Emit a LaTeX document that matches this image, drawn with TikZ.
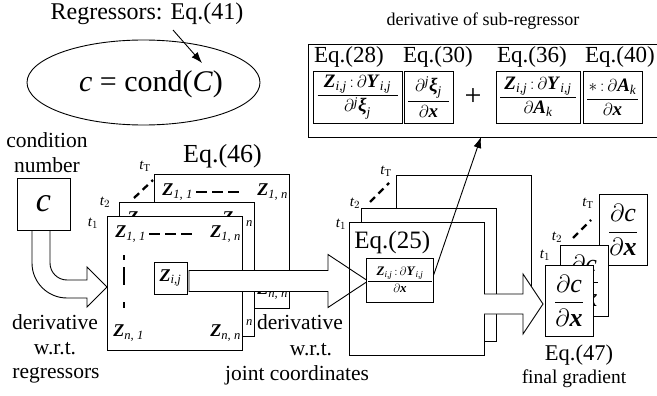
\documentclass[tikz,border=0pt]{standalone}
\usepackage{amsmath}
\usepackage{fontspec}
\setmainfont{Liberation Serif}
\usetikzlibrary{arrows.meta,shapes.geometric}
\newcommand{\bZ}{\textbf{\textit{Z}}}
\newcommand{\bY}{\textbf{\textit{Y}}}
\newcommand{\bA}{\textbf{\textit{A}}}
\newcommand{\bx}{\textbf{\textit{x}}}
\newcommand{\bxi}{\textbf{\textit{ξ}}}
\newcommand{\myfs}[1]{\fontsize{#1}{#1}\selectfont}
\newcommand{\zmatrix}[3]{%
\begin{scope}[shift={(#1,-#2)}]
\node[matbox] (#3) at (0,0) {};
\node[zent] (#3a) at (8,-18) {$\bZ_{\textit{1, 1}}$};
\node[zent] (#3b) at (103,-18) {$\bZ_{\textit{1, n}}$};
\node[zent] (#3c) at (6,-117) {$\bZ_{\textit{n, 1}}$};
\node[zent] (#3d) at (103,-117) {$\bZ_{\textit{n, n}}$};
\draw[dotline] (42,-18) -- (86,-18);
\draw[vdot] (17,-39) -- (17,-44) (17,-51) -- (17,-69) (17,-86) -- (17,-92);
\end{scope}}
\begin{document}
\begin{tikzpicture}[x=1pt,y=1pt,line width=0.9pt,
  lbl/.style={anchor=base,inner sep=0pt,font=\myfs{21.5}},
  matbox/.style={draw,fill=white,minimum width=135pt,minimum height=134pt,anchor=north west,inner sep=0pt},
  eqbox/.style={draw,fill=white,minimum width=135pt,minimum height=133pt,anchor=north west,inner sep=0pt},
  zent/.style={anchor=west,inner sep=0pt,font=\myfs{18}},
  dotline/.style={line width=2.5pt,dash pattern=on 10.5pt off 5.5pt},
  vdot/.style={line width=2.5pt},
  tdash/.style={line width=2.3pt,dash pattern=on 7pt off 5pt},
  tlab/.style={inner sep=0pt,font=\myfs{15}},
  fracbox/.style={draw,fill=white,inner xsep=0pt,inner ysep=0pt,minimum height=52pt,font=\myfs{19}},
  gbox/.style={draw,fill=white,minimum width=48pt,minimum height=71pt,inner sep=0pt,font=\myfs{26}},
  blockarrow/.style={draw,fill=white,line join=miter},
  thinarrow/.style={-{Latex[length=11pt,width=8pt]},line width=0.9pt}]
\useasboundingbox (0,0) rectangle (657,-396);
\clip (0,0) rectangle (657,-396);

% top-left
\node[lbl,font=\myfs{24}] (reg) at (147,-20) {Regressors: Eq.(41)};
\node[draw,ellipse,minimum width=233pt,minimum height=85pt,inner sep=0pt] (ell) at (143.5,-82.5) {};
\node[inner sep=0pt,font=\myfs{30}] (condtxt) at (151,-84) {\textit{c} = cond(\textit{C})};
\coordinate (a1s) at (173,-30);
\coordinate (a1e) at (202,-63);
\draw[thinarrow] (a1s) -- (a1e);

% top box
\node[draw,minimum width=354pt,minimum height=93pt,anchor=north west,inner sep=0pt] (topbox) at (308,-44) {};
\node[lbl,font=\myfs{18}] (hd) at (483,-26) {derivative of sub-regressor};
\node[lbl,font=\myfs{23}] (e28) at (349,-63) {Eq.(28)};
\node[lbl,font=\myfs{23}] (e30) at (438,-63) {Eq.(30)};
\node[lbl,font=\myfs{23}] (e36) at (532,-63) {Eq.(36)};
\node[lbl,font=\myfs{23}] (e40) at (620,-63) {Eq.(40)};
\node[fracbox,minimum width=89pt] (f28) at (357.5,-97) {$\dfrac{\makebox[80pt]{$\bZ_{\textit{i,j}}\,{:}\,\partial\bY_{\textit{i,j}}$}}{\partial^{\textit{j}}\bxi_{\textit{j}}}$};
\node[fracbox,minimum width=49pt] (f30) at (428.5,-97) {$\dfrac{\makebox[41pt]{$\partial^{\textit{j}}\bxi_{\textit{j}}$}}{\partial\bx}$};
\node[font=\myfs{30},inner sep=0pt] (plus) at (473,-97) {+};
\node[fracbox,minimum width=84pt] (f36) at (538,-97) {$\dfrac{\makebox[76pt]{$\bZ_{\textit{i,j}}\,{:}\,\partial\bY_{\textit{i,j}}$}}{\partial\bA_{\textit{k}}}$};
\node[fracbox,minimum width=59pt] (f40) at (612.5,-97) {$\dfrac{\makebox[51pt]{$*\,{:}\,\partial\bA_{\textit{k}}$}}{\partial\bx}$};

% condition number box and curved arrow
\node[lbl] (cn1) at (47,-147) {condition};
\node[lbl] (cn2) at (47,-172) {number};
\draw[blockarrow] (32,-230) -- (32,-263) arc[start angle=180,end angle=270,radius=35pt] -- (87,-298) -- (87,-307) -- (107,-287) -- (87,-267) -- (87,-280) -- (67,-280) arc[start angle=270,end angle=180,radius=17pt] -- (50,-230);
\node[draw,fill=white,minimum width=53pt,minimum height=52pt,inner sep=0pt,font=\myfs{34}] (cbox) at (43.5,-204) {\textit{c}};
\node[lbl] (dl1) at (55,-329) {derivative};
\node[lbl] (dl2) at (55,-354) {w.r.t.};
\node[lbl] (dl3) at (56,-378) {regressors};

% matrix stack
\node[lbl,font=\myfs{26}] (e46) at (222.5,-163) {Eq.(46)};
\zmatrix{154}{174}{m3}
\zmatrix{119}{202}{m2}
\zmatrix{107}{216}{m1}
\node[tlab] (mtT) at (145,-166) {$\textit{t}_{\mathrm{T}}$};
\node[tlab] (mt2) at (105,-202) {$\textit{t}_{2}$};
\node[tlab] (mt1) at (93,-223) {$\textit{t}_{1}$};
\coordinate (md1) at (134,-198);
\coordinate (md2) at (153,-180);
\draw[tdash] (md1) -- (md2);
\node[draw,fill=white,minimum width=33pt,minimum height=32pt,inner sep=0pt,font=\myfs{18}] (zij) at (170.5,-278) {$\bZ_{\textit{i,j}}$};

% Eq.(25) stack
\node[eqbox] (q3) at (396,-175) {};
\node[eqbox] (q2) at (361,-208) {};
\node[eqbox] (q1) at (349,-222) {};
\node[tlab] (qtT) at (386,-171) {$\textit{t}_{\mathrm{T}}$};
\node[tlab] (qt2) at (355,-203) {$\textit{t}_{2}$};
\node[tlab] (qt1) at (341,-224) {$\textit{t}_{1}$};
\coordinate (qd1) at (370,-202);
\coordinate (qd2) at (389,-183);
\draw[tdash] (qd1) -- (qd2);
\node[anchor=base west,inner sep=0pt,font=\myfs{25}] (e25) at (354,-248) {Eq.(25)};

% block arrow matrix -> Eq.(25)
\draw[blockarrow] (189,-270.5) -- (328,-270.5) -- (328,-254.5) -- (368,-281) -- (328,-307.5) -- (328,-291.5) -- (189,-291.5) -- cycle;
\draw (q1.north west) -- (q1.south west);
\node[draw,fill=white,inner xsep=0pt,inner ysep=1pt,minimum height=44pt,font=\myfs{13}] (f25) at (400,-280) {$\dfrac{\makebox[64pt]{$\bZ_{\textit{i,j}}\,{:}\,\partial\bY_{\textit{i,j}}$}}{\partial\bx}$};
\coordinate (dtip) at (481,-137);
\draw[thinarrow] ([yshift=5pt]f25.east) -- (dtip);

\node[lbl] (dj1) at (300,-329) {derivative};
\node[lbl] (dj2) at (311,-355) {w.r.t.};
\node[lbl] (dj3) at (297,-380) {joint coordinates};

% block arrow Eq.(25) -> final
\fill[white] (484,-294) rectangle (524,-314);
\draw[blockarrow] (484,-294) -- (523,-294) -- (523,-274) -- (543,-304) -- (523,-334) -- (523,-314) -- (484,-314);

% final gradient stack
\node[gbox] (g3) at (623,-230) {$\dfrac{\partial\textit{c}}{\partial\bx}$};
\node[gbox] (g2) at (584,-280.5) {$\dfrac{\partial\textit{c}}{\partial\bx}$};
\node[gbox] (g1) at (569,-300.5) {$\dfrac{\partial\textit{c}}{\partial\bx}$};
\node[tlab] (gtT) at (588,-203) {$\textit{t}_{\mathrm{T}}$};
\node[tlab] (gt2) at (557,-237) {$\textit{t}_{2}$};
\node[tlab] (gt1) at (545,-255) {$\textit{t}_{1}$};
\coordinate (gd1) at (573,-238);
\coordinate (gd2) at (591,-220);
\draw[tdash] (gd1) -- (gd2);
\node[lbl,font=\myfs{22.5}] (e47) at (579,-360) {Eq.(47)};
\node[lbl,font=\myfs{19.5}] (fg) at (574,-383) {final gradient};
\end{tikzpicture}
\end{document}
